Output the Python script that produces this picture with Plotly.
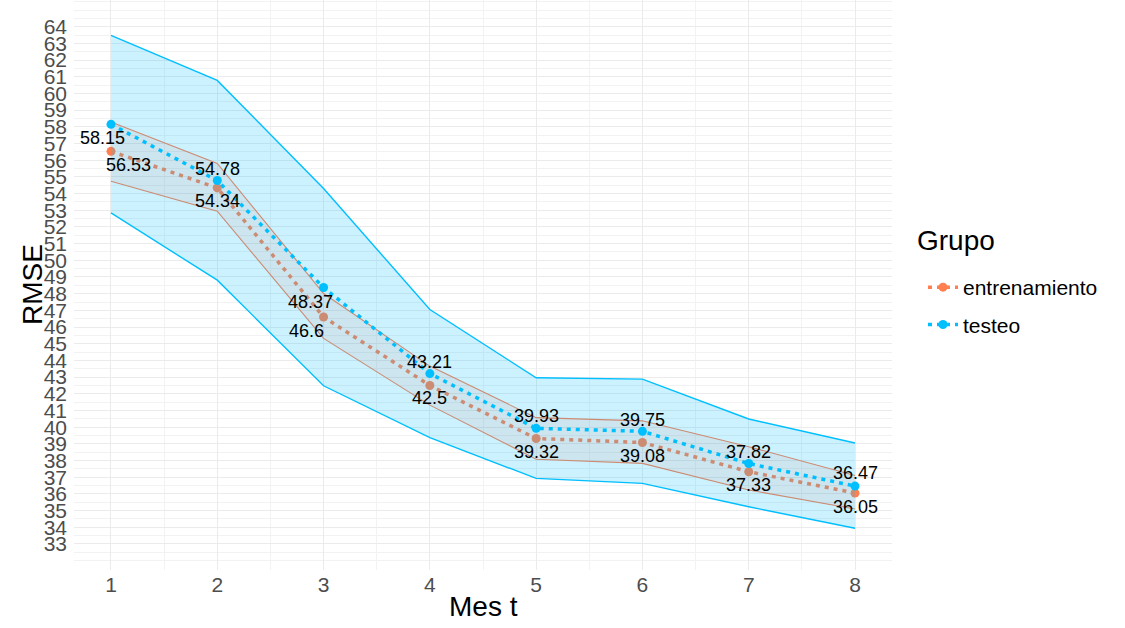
import plotly.graph_objects as go

# ---- data ----
mes = [1, 2, 3, 4, 5, 6, 7, 8]
entrenamiento = [56.53, 54.34, 46.6, 42.5, 39.32, 39.08, 37.33, 36.05]
entrenamiento_sup = [58.29, 55.8, 48.01, 43.66, 40.57, 40.38, 38.83, 37.1]
entrenamiento_inf = [54.74, 52.94, 45.32, 41.32, 38.08, 37.83, 36.23, 35.1]
testeo = [58.15, 54.78, 48.37, 43.21, 39.93, 39.75, 37.82, 36.47]
testeo_sup = [63.48, 60.78, 54.3, 47.05, 42.96, 42.88, 40.49, 39.05]
testeo_inf = [52.84, 48.81, 42.48, 39.37, 36.93, 36.63, 35.23, 33.94]
y_ticks = list(range(33, 65))
x_ticks = [1, 2, 3, 4, 5, 6, 7, 8]

# label offsets in pixels (style only, mimicking repelled labels): (dx right, dy down)
off_test = [(-8, 14), (0, -12), (-13, 14), (0, -12), (0, -12), (0, -11), (0, -12), (0, -13)]
off_train = [(18, 14), (0, 13), (-17, 14), (0, 13), (0, 13), (0, 13), (0, 13), (0, 14)]

CORAL = "#FF7F50"
BLUE = "#00BFFF"
FONT = "Liberation Sans, Arial"

fig = go.Figure()

# training ribbon (drawn under the testing ribbon, so it gets tinted by it)
fig.add_trace(go.Scatter(x=mes, y=entrenamiento_inf, mode="lines",
                         line=dict(color=CORAL, width=1.1), showlegend=False, hoverinfo="skip"))
fig.add_trace(go.Scatter(x=mes, y=entrenamiento_sup, mode="lines", fill="tonexty",
                         fillcolor="rgba(255,127,80,0.12)",
                         line=dict(color=CORAL, width=1.1), showlegend=False, hoverinfo="skip"))
fig.add_trace(go.Scatter(x=mes, y=entrenamiento, mode="lines+markers", name="entrenamiento",
                         line=dict(color=CORAL, width=3.5, dash="4px,5px"),
                         marker=dict(color=CORAL, size=9), showlegend=False))
# testing ribbon
fig.add_trace(go.Scatter(x=mes, y=testeo_inf, mode="lines",
                         line=dict(color=BLUE, width=1.4), showlegend=False, hoverinfo="skip"))
fig.add_trace(go.Scatter(x=mes, y=testeo_sup, mode="lines", fill="tonexty",
                         fillcolor="rgba(0,191,255,0.2)",
                         line=dict(color=BLUE, width=1.4), showlegend=False, hoverinfo="skip"))
fig.add_trace(go.Scatter(x=mes, y=testeo, mode="lines+markers", name="testeo",
                         line=dict(color=BLUE, width=3.5, dash="4px,5px"),
                         marker=dict(color=BLUE, size=9), legendgroup="b", legendrank=2))
# legend entry with the untinted coral colour
fig.add_trace(go.Scatter(x=[None], y=[None], mode="lines+markers", name="entrenamiento",
                         line=dict(color=CORAL, width=3.5, dash="4px,5px"),
                         marker=dict(color=CORAL, size=9), legendgroup="a", legendrank=1))

annotations = []
for i, x in enumerate(mes):
    for vals, offs in ((testeo, off_test), (entrenamiento, off_train)):
        dx, dy = offs[i]
        annotations.append(dict(x=x, y=vals[i], xref="x", yref="y", text=f"{vals[i]:g}",
                                showarrow=True, ax=dx, ay=dy, axref="pixel", ayref="pixel",
                                arrowcolor="rgba(0,0,0,0)", arrowwidth=0.1, arrowhead=0,
                                xanchor="center", yanchor="middle",
                                font=dict(family=FONT, size=18, color="black")))

L, R, T, B = 74, 233, 0, 58
PW, PH = 1125 - L - R, 628 - T - B

# axis titles and legend title
annotations.append(dict(x=0.5, y=(628 - B - 606) / PH, xref="paper", yref="paper",
                        xanchor="center", yanchor="middle",
                        text="Mes t", showarrow=False, font=dict(family=FONT, size=28, color="black")))
annotations.append(dict(x=(32 - L) / PW, y=0.5, xref="paper", yref="paper",
                        xanchor="center", yanchor="middle",
                        text="RMSE", textangle=-90, showarrow=False,
                        font=dict(family=FONT, size=28, color="black")))
annotations.append(dict(x=(915 - L) / PW, y=(628 - B - 240) / PH, xref="paper", yref="paper",
                        xanchor="left", yanchor="middle",
                        text="Grupo", showarrow=False, font=dict(family=FONT, size=28, color="black")))

fig.update_layout(
    width=1125, height=628,
    margin=dict(l=L, r=R, t=T, b=B, autoexpand=False),
    paper_bgcolor="white", plot_bgcolor="white",
    font=dict(family=FONT, color="black"),
    annotations=annotations,
    showlegend=True,
    legend=dict(font=dict(size=21),
                x=(923 - L) / PW, xanchor="left", y=(628 - B - 267) / PH, yanchor="top",
                traceorder="grouped", tracegroupgap=7, bgcolor="rgba(0,0,0,0)"),
    xaxis=dict(range=[0.652, 8.348], tickmode="array", tickvals=x_ticks,
               ticktext=[str(v) for v in x_ticks], automargin=False,
               showgrid=True, gridcolor="#EBEBEB", gridwidth=1.1,
               minor=dict(dtick=0.5, tick0=0.5, showgrid=True, gridcolor="#F2F2F2", gridwidth=0.6),
               zeroline=False, showline=False, ticks="",
               tickfont=dict(size=21, color="#4D4D4D")),
    yaxis=dict(range=[31.44, 65.6], tickmode="array", tickvals=y_ticks,
               ticktext=[str(v) for v in y_ticks], automargin=False,
               showgrid=True, gridcolor="#EBEBEB", gridwidth=1.1,
               minor=dict(dtick=0.5, tick0=0.5, showgrid=True, gridcolor="#F2F2F2", gridwidth=0.6),
               zeroline=False, showline=False, ticks="", ticklabelstandoff=6,
               tickfont=dict(size=21, color="#4D4D4D")),
)

fig.write_html("out.html", config={"displayModeBar": False},
               post_script="document.body.style.margin='0';")
